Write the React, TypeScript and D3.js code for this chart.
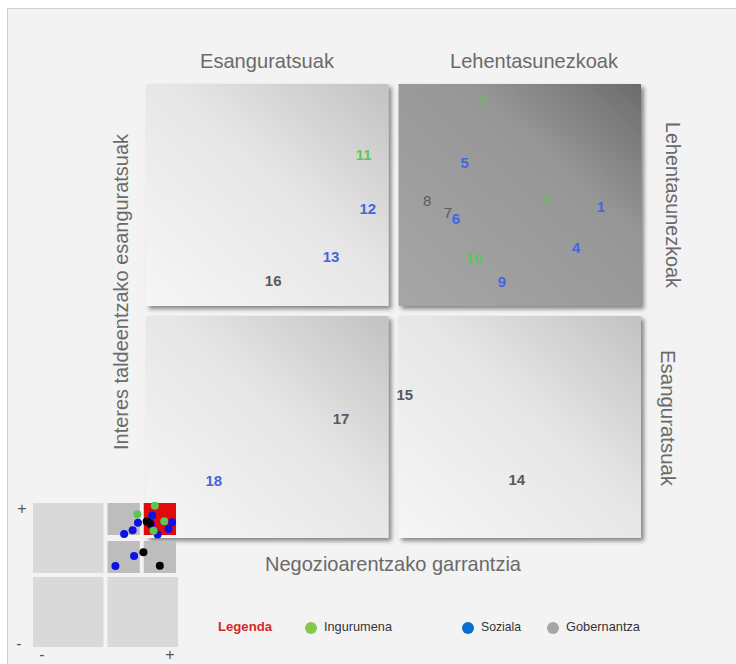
import { useMemo } from 'react'
import * as d3 from 'd3'

// materiality matrix: issue number, business importance (x), stakeholder importance (y)
const ids = ['1', '2', '3', '4', '5', '6', '7', '8', '9', '10', '11', '12', '13', '14', '15', '16', '17', '18']
const xValues = [9.19, 6.81, 8.1, 8.69, 6.44, 6.26, 6.1, 5.68, 7.19, 6.63, 4.4, 4.48, 3.74, 7.49, 5.23, 2.57, 3.94, 1.37]
const yValues = [7.31, 9.63, 7.47, 6.39, 8.28, 7.03, 7.18, 7.44, 5.64, 6.15, 8.44, 7.25, 6.21, 1.28, 3.17, 5.68, 2.64, 1.26]
const categories = ['S', 'I', 'I', 'S', 'S', 'S', 'G', 'G', 'S', 'I', 'I', 'S', 'S', 'G', 'G', 'G', 'G', 'S']
const miniCategories = ['S', 'I', 'I', 'S', 'S', 'S', 'G', 'G', 'S', 'I', 'I', 'S', 'S', 'G', 'G', 'S', 'S', 'S']

const legendNames = ['Ingurumena', 'Soziala', 'Gobernantza']
const topLabels = ['Esanguratsuak', 'Lehentasunezkoak']
const rightLabels = ['Lehentasunezkoak', 'Esanguratsuak']
const xTitle = 'Negozioarentzako garrantzia'
const yTitle = 'Interes taldeentzako esanguratsuak'

const textColor: Record<string, string> = { I: '#5cc65a', S: '#4465e0', G: '#5a5a5a' }
const miniColor: Record<string, string> = { I: '#5cc65a', S: '#1010e6', G: '#000000' }
const FONT = "'Liberation Sans Narrow', 'Liberation Sans', Arial, sans-serif"

export default function App() {
  const W = 736
  const H = 664
  const x = useMemo(() => d3.scaleLinear().domain([0, 10]).range([146, 641]), [])
  const y = useMemo(() => d3.scaleLinear().domain([0, 10]).range([538, 84]), [])
  const mx = d3.scaleLinear().domain([-10, 10]).range([33, 178])
  const my = d3.scaleLinear().domain([-10, 10]).range([647, 503])

  const gap = 5
  const quads = [
    { x0: 0, x1: 5, y0: 5, y1: 10, fill: 'url(#light)' },
    { x0: 5, x1: 10, y0: 5, y1: 10, fill: 'url(#dark)' },
    { x0: 0, x1: 5, y0: 0, y1: 5, fill: 'url(#light)' },
    { x0: 5, x1: 10, y0: 0, y1: 5, fill: 'url(#light)' },
  ]

  const miniBig = [
    { x0: -10, x1: 0, y0: 0, y1: 10 },
    { x0: -10, x1: 0, y0: -10, y1: 0 },
    { x0: 0, x1: 10, y0: -10, y1: 0 },
  ]
  const miniSub = [
    { x0: 0, x1: 5, y0: 5, y1: 10, fill: '#bdbdbd' },
    { x0: 5, x1: 10, y0: 5, y1: 10, fill: '#e10b0b' },
    { x0: 0, x1: 5, y0: 0, y1: 5, fill: '#bdbdbd' },
    { x0: 5, x1: 10, y0: 0, y1: 5, fill: '#bdbdbd' },
  ]

  const legendX = [311, 468, 553]
  const legendLen = [68, 40, 74]
  const legendColors = ['#86c84a', '#0a6ccc', '#a6a6a6']

  return (
    <div style={{ position: 'absolute', left: 0, top: 0 }}>
      <svg width={W} height={H} style={{ display: 'block', fontFamily: FONT }}>
        <defs>
          <linearGradient id="light" x1="0" y1="1" x2="1" y2="0">
            <stop offset="0" stopColor="#f6f6f6" />
            <stop offset="0.55" stopColor="#e6e6e6" />
            <stop offset="1" stopColor="#c2c2c2" />
          </linearGradient>
          <linearGradient id="dark" x1="0" y1="1" x2="1" y2="0">
            <stop offset="0" stopColor="#a6a6a6" />
            <stop offset="0.65" stopColor="#969696" />
            <stop offset="1" stopColor="#6c6c6c" />
          </linearGradient>
          <filter id="shadow" x="-5%" y="-5%" width="115%" height="115%">
            <feDropShadow dx="3" dy="3" stdDeviation="2" floodColor="#000" floodOpacity="0.45" />
          </filter>
        </defs>
        <rect x={0} y={0} width={W} height={H} fill="#ffffff" />
        <rect x={7.5} y={8.5} width={W} height={H} fill="#f3f3f3" stroke="#d0d0d0" />

        {quads.map((q, i) => (
          <rect
            key={i}
            x={x(q.x0) + (q.x0 === 0 ? 0 : gap)}
            y={y(q.y1) + (q.y1 === 10 ? 0 : gap)}
            width={x(q.x1) - x(q.x0) - gap}
            height={y(q.y0) - y(q.y1) - gap}
            fill={q.fill}
            filter="url(#shadow)"
          />
        ))}

        {topLabels.map((t, i) => (
          <text key={t} x={i === 0 ? 267 : 534} y={60} textAnchor="middle" dominantBaseline="central"
            fontSize={21} fill="#6a6a6a" textLength={i === 0 ? 134 : 168} lengthAdjust="spacingAndGlyphs">{t}</text>
        ))}
        {rightLabels.map((t, i) => (
          <text key={t} transform={`translate(${i === 0 ? 673 : 668},${i === 0 ? 205 : 418}) rotate(90)`}
            textAnchor="middle" dominantBaseline="central" fontSize={21} fill="#6a6a6a"
            textLength={i === 0 ? 166 : 136} lengthAdjust="spacingAndGlyphs">{t}</text>
        ))}
        <text transform="translate(120,292) rotate(-90)" textAnchor="middle" dominantBaseline="central"
          fontSize={21} fill="#6a6a6a" textLength={316} lengthAdjust="spacingAndGlyphs">{yTitle}</text>
        <text x={393} y={563} textAnchor="middle" dominantBaseline="central" fontSize={21} fill="#6a6a6a"
          textLength={256} lengthAdjust="spacingAndGlyphs">{xTitle}</text>

        {ids.map((id, i) => (
          <text key={id} x={x(xValues[i])} y={y(yValues[i])} textAnchor="middle" dominantBaseline="central"
            fontFamily="'Liberation Sans', Arial, sans-serif" fontWeight={categories[i] === 'G' && (id === '7' || id === '8') ? 400 : 700}
            fontSize={15} fill={textColor[categories[i]]}
            opacity={id === '2' || id === '3' ? 0.7 : 1}>{id}</text>
        ))}

        {/* overview */}
        <g>
          {miniBig.map((c, i) => (
            <rect key={i} x={mx(c.x0) + (c.x0 === 0 ? 2 : 0)} y={my(c.y1) + (c.y1 === 0 ? 2 : 0)}
              width={mx(c.x1) - mx(c.x0) - 2} height={my(c.y0) - my(c.y1) - 2} fill="#d9d9d9" />
          ))}
          {miniSub.map((c, i) => (
            <rect key={i} x={mx(c.x0) + 2} y={my(c.y1) + (c.y1 === 10 ? 0 : 2)}
              width={mx(c.x1) - mx(c.x0) - 4} height={my(c.y0) - my(c.y1) - 4} fill={c.fill} />
          ))}
          {ids.map((id, i) => (
            <circle key={id} cx={mx(xValues[i])} cy={my(yValues[i])} r={4} fill={miniColor[miniCategories[i]]} />
          ))}
          <text x={22} y={508} textAnchor="middle" dominantBaseline="central" fontSize={16} fill="#555">+</text>
          <text x={19} y={643} textAnchor="middle" dominantBaseline="central" fontSize={16} fill="#555">-</text>
          <text x={42} y={654} textAnchor="middle" dominantBaseline="central" fontSize={16} fill="#555">-</text>
          <text x={170} y={654} textAnchor="middle" dominantBaseline="central" fontSize={16} fill="#555">+</text>
        </g>

        {/* legend */}
        <text x={218} y={627} dominantBaseline="central" fontSize={12} fontWeight={700} fill="#d42a2a"
          textLength={54} lengthAdjust="spacingAndGlyphs">Legenda</text>
        {legendNames.map((n, i) => (
          <g key={n}>
            <circle cx={legendX[i]} cy={628} r={6} fill={legendColors[i]} />
            <text x={legendX[i] + 13} y={626} dominantBaseline="central" fontSize={13} fill="#333"
              textLength={legendLen[i]} lengthAdjust="spacingAndGlyphs">{n}</text>
          </g>
        ))}
      </svg>
    </div>
  )
}
